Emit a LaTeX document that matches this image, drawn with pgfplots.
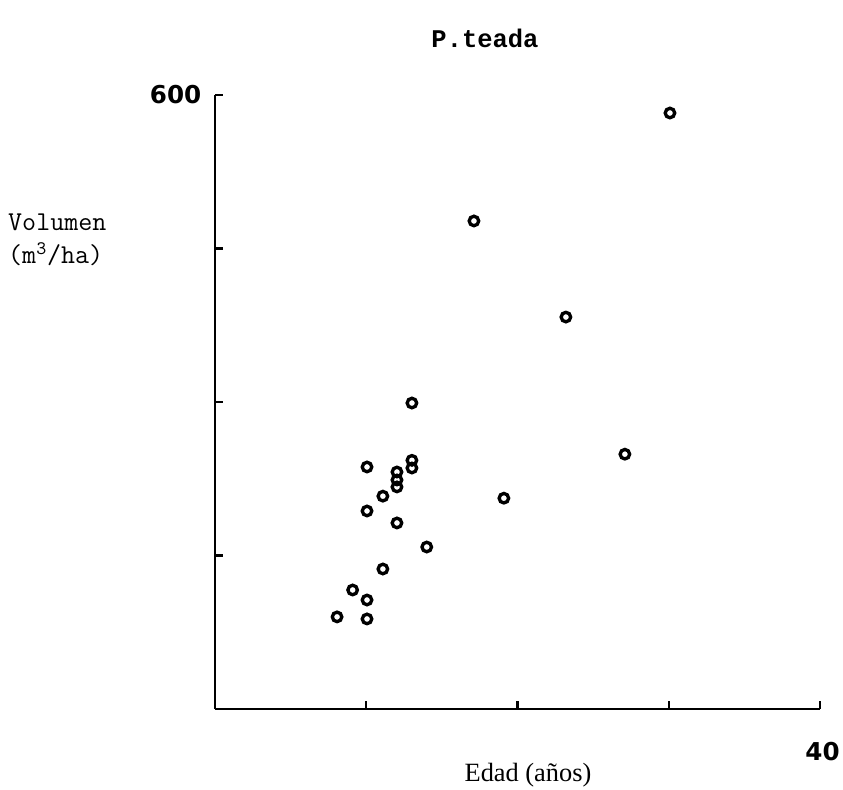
\documentclass[border=0pt]{standalone}
\usepackage{fontspec}
\setmainfont{Liberation Serif}
\newfontfamily\monofont{Liberation Mono}
\newfontfamily\tickfont{DejaVu Sans}
\usepackage{pgfplots}
\pgfplotsset{compat=1.18}
\begin{document}
\begin{tikzpicture}
\useasboundingbox (0,0) rectangle (16.86cm,15.8cm);
\begin{axis}[
  at={(4.3cm,1.62cm)}, anchor=south west,
  scale only axis, width=12.1cm, height=12.28cm,
  xmin=0, xmax=40, ymin=0, ymax=600,
  axis x line*=bottom, axis y line*=left,
  axis line style={line width=1.6pt, -},
  xtick={10,20,30,40}, xticklabels={,,,40},
  ytick={150,300,450,600}, yticklabels={,,,600},
  tick align=inside, major tick length=0.16cm,
  tick style={line width=1.4pt, black},
  xticklabel style={font=\tickfont\bfseries\fontsize{14}{14}\selectfont, yshift=-0.55cm, xshift=0.05cm},
  yticklabel style={font=\tickfont\bfseries\fontsize{14}{14}\selectfont, xshift=-0.15cm},
  clip=false,
]
\addplot[only marks, mark=o, mark size=0.095cm, mark options={line width=1.9pt, black}] coordinates {
(30.08,582.4) (17.12,476.9) (23.2,383) (13.02,299) (27.1,249)
(10.05,236.5) (13.02,243) (13.02,235.5)
(12.03,231.6) (12.03,223.8) (12.03,217)
(19.1,206) (11.1,208) (10.05,193.5) (12.03,181.8) (14.0,158.3)
(11.1,136.8) (9.1,116.3) (10.05,106.5) (8.07,90) (10.05,88)
};
\end{axis}
\node[font=\monofont\bfseries\fontsize{14.5}{15}\selectfont] at (9.7cm,15.04cm) {P.teada};
\node[font=\ttfamily\fontsize{15.5}{19}\selectfont, align=left, anchor=west] at (0.04cm,11.0cm) {Volumen\\(m\textsuperscript{3}/ha)};
\node[font=\fontsize{15}{15}\selectfont] at (10.56cm,0.3cm) {Edad (años)};
\end{tikzpicture}
\end{document}
